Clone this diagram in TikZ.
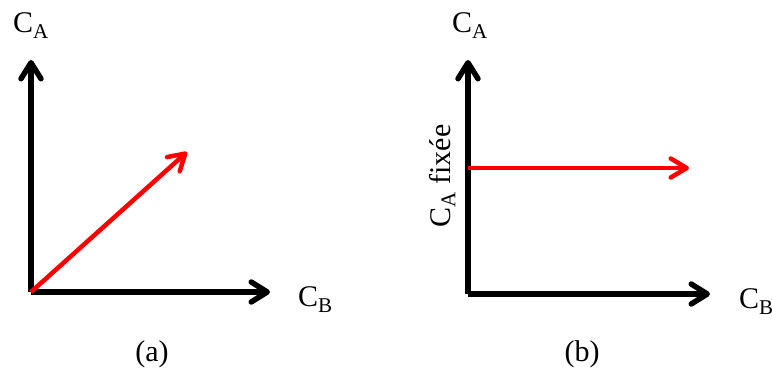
\documentclass[tikz,border=0pt]{standalone}
\usepackage{amsmath}
\usepackage{fontspec}
\setmainfont{Liberation Serif}
\usepackage{tikz}
\usetikzlibrary{arrows.meta,positioning}
\newcommand{\conc}[1]{C$_{\textrm{#1}}$}
\tikzset{
  axis/.style={line width=5.5pt,draw=black,-{Straight Barb[length=16pt,width=20pt,line cap=round,line join=round]}},
  vecArrow/.style={line width=4.5pt,draw=red,-{Straight Barb[length=16pt,width=19pt,line cap=round,line join=round]}},
  lbl/.style={font=\fontsize{30}{34}\selectfont,inner sep=0pt}
}
\begin{document}
\begin{tikzpicture}[x=1pt,y=-1pt]
  \useasboundingbox (0,0) rectangle (772,371);
  % panel (a)
  \coordinate (oa) at (31,292);
  \coordinate (ya) at (31,60);
  \coordinate (xa) at (270,292);
  \coordinate (va) at (187,152);
  \draw[axis] (oa)--(ya);
  \draw[axis] (oa)--(xa);
  \draw[vecArrow] (oa)--(va);
  \node[lbl,anchor=base west] (caA) at (13,33) {\conc{A}};
  \node[lbl,anchor=base west] (cbA) at (298,307) {\conc{B}};
  \node[lbl,anchor=base] (capA) at (152,362) {(a)};
  % panel (b)
  \coordinate (ob) at (468,294);
  \coordinate (yb) at (468,60);
  \coordinate (xb) at (710,294);
  \coordinate (hb0) at (468,168);
  \coordinate (hb1) at (689,168);
  \draw[axis] (ob)--(yb);
  \draw[axis] (ob)--(xb);
  \draw[vecArrow] (hb0)--(hb1);
  \node[lbl,anchor=base west] (caB) at (452,33) {\conc{A}};
  \node[lbl,anchor=base west] (cbB) at (739,309) {\conc{B}};
  \node[lbl,rotate=90,anchor=base] (fix) at (450,176) {\conc{A} fixée};
  \node[lbl,anchor=base] (capB) at (582,362) {(b)};
\end{tikzpicture}
\end{document}
